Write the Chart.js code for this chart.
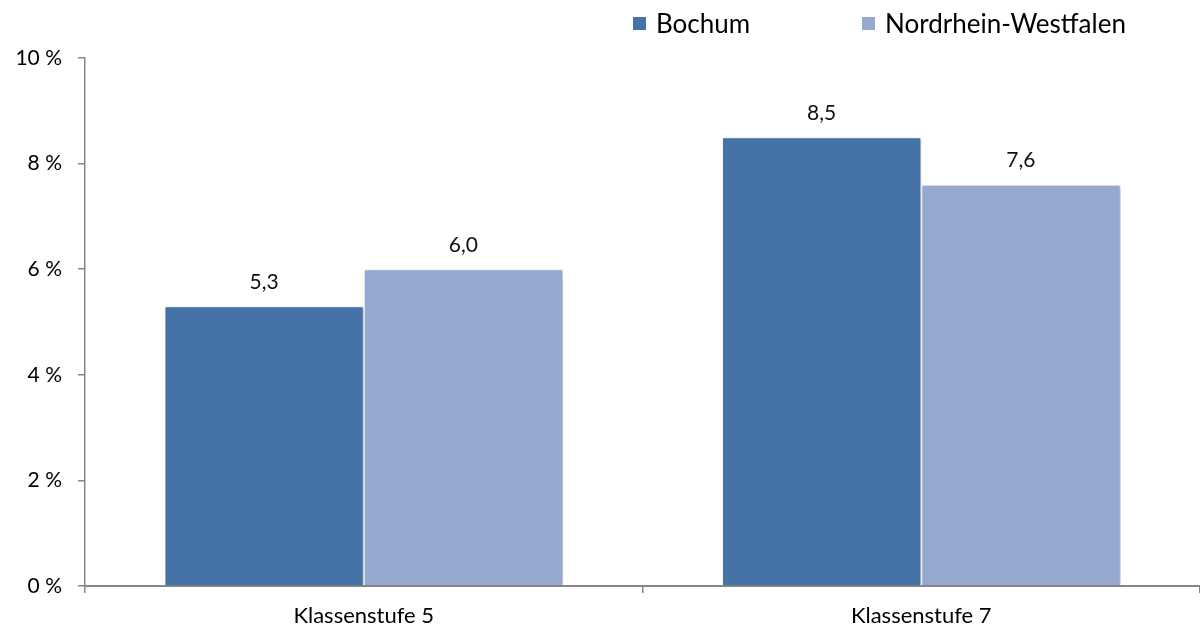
<!DOCTYPE html>
<html><head><meta charset="utf-8">
<script src="https://cdn.jsdelivr.net/npm/chart.js@4"></script>
<style>html,body{margin:0;padding:0;background:#fff;}#wrap{width:1200px;height:629px;}</style>
</head><body><div id="wrap"><canvas id="c" width="1200" height="629"></canvas></div>
<script>
const categories = ["Klassenstufe 5", "Klassenstufe 7"];
const seriesNames = ["Bochum", "Nordrhein-Westfalen"];
const bochum = [5.3, 8.5];
const nrw = [6.0, 7.6];
const yTicks = [0, 2, 4, 6, 8, 10];
const colors = ["#4572A7", "#95A9D0"];
const FONT = "Lato, 'Open Sans', sans-serif";

const shadowPlugin = {
  id: 'shadow',
  beforeDatasetsDraw(chart) {
    const ctx = chart.ctx; ctx.save();
    ctx.shadowColor = 'rgba(0,0,0,0.28)'; ctx.shadowBlur = 4; ctx.shadowOffsetX = 3; ctx.shadowOffsetY = 1;
  },
  afterDatasetsDraw(chart) { chart.ctx.restore(); }
};
const labelPlugin = {
  id: 'vals',
  afterDatasetsDraw(chart) {
    const ctx = chart.ctx; ctx.save();
    ctx.font = "21px " + FONT; ctx.fillStyle = '#111'; ctx.textAlign = 'center'; ctx.textBaseline = 'middle';
    chart.data.datasets.forEach((ds, i) => {
      chart.getDatasetMeta(i).data.forEach((bar, j) => {
        ctx.fillText(ds.data[j].toFixed(1).replace('.', ','), bar.x, bar.y - 24);
      });
    });
    ctx.restore();
  }
};
const legendPlugin = {
  id: 'customLegend',
  afterDraw(chart) {
    const ctx = chart.ctx; ctx.save();
    ctx.font = "26px " + FONT; ctx.textBaseline = 'middle'; ctx.textAlign = 'left';
    const starts = [633, 862];
    chart.data.datasets.forEach((ds, i) => {
      ctx.fillStyle = ds.backgroundColor;
      ctx.fillRect(starts[i], 17, 13, 13);
      ctx.fillStyle = '#000';
      ctx.fillText(ds.label, starts[i] + 23, 25);
    });
    ctx.restore();
  }
};

new Chart(document.getElementById('c'), {
  type: 'bar',
  data: {
    labels: categories,
    datasets: [
      { label: seriesNames[0], data: bochum, backgroundColor: colors[0], borderColor: '#fff', borderWidth: 1 },
      { label: seriesNames[1], data: nrw, backgroundColor: colors[1], borderColor: '#fff', borderWidth: 1 }
    ]
  },
  options: {
    responsive: false, animation: false,
    layout: { padding: { top: 58, left: 0, right: 0, bottom: 0 } },
    datasets: { bar: { barPercentage: 1, categoryPercentage: 0.715 } },
    plugins: { legend: { display: false }, tooltip: { enabled: false } },
    scales: {
      x: {
        grid: { display: true, drawOnChartArea: false, offset: true, tickLength: 7, color: '#868686', lineWidth: 1.5 },
        border: { color: '#868686', width: 2 },
        ticks: { font: { family: FONT, size: 22 }, color: '#000', padding: 10 },
        afterFit(s) { s.height = 43; }
      },
      y: {
        min: 0, max: 10,
        afterBuildTicks(s) { s.ticks = yTicks.map(v => ({ value: v })); },
        grid: { display: true, drawOnChartArea: false, tickLength: 7, color: '#868686', lineWidth: 1.5 },
        border: { color: '#868686', width: 1.5 },
        ticks: { font: { family: FONT, size: 21 }, color: '#000', padding: 16, callback: v => v + ' %' },
        afterFit(s) { s.width = 85; }
      }
    }
  },
  plugins: [shadowPlugin, labelPlugin, legendPlugin]
});
</script></body></html>
